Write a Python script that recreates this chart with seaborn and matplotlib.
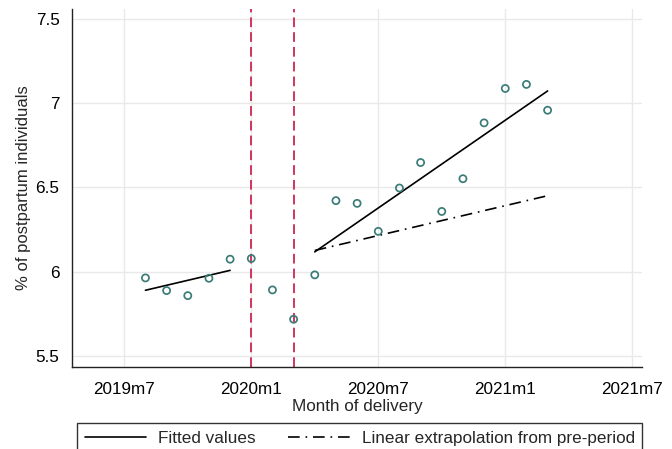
import numpy as np
import pandas as pd
import matplotlib
matplotlib.use("Agg")
import matplotlib.pyplot as plt
import seaborn as sns

# ---- data ----
months = ["2019m8", "2019m9", "2019m10", "2019m11", "2019m12",
          "2020m1", "2020m2", "2020m3", "2020m4", "2020m5",
          "2020m6", "2020m7", "2020m8", "2020m9", "2020m10",
          "2020m11", "2020m12", "2021m1", "2021m2", "2021m3"]
values = [5.963, 5.888, 5.858, 5.961, 6.074,
          6.078, 5.892, 5.718, 5.981, 6.421,
          6.405, 6.239, 6.496, 6.647, 6.357,
          6.551, 6.882, 7.086, 7.110, 6.957]
pre_period = ["2019m8", "2019m12"]
post_period = ["2020m4", "2021m3"]
event_months = ["2020m1", "2020m3"]
tick_labels = ["2019m7", "2020m1", "2020m7", "2021m1", "2021m7"]


def midx(s):
    y, m = s.split("m")
    return (int(y) - 2019) * 12 + int(m) - 7


df = pd.DataFrame({"month": [midx(m) for m in months], "value": values})

pre = df[(df.month >= midx(pre_period[0])) & (df.month <= midx(pre_period[1]))]
post = df[(df.month >= midx(post_period[0])) & (df.month <= midx(post_period[1]))]
b_pre = np.polyfit(pre.month, pre.value, 1)
b_post = np.polyfit(post.month, post.value, 1)
fit_pre = pd.DataFrame({"month": pre.month, "fit": np.polyval(b_pre, pre.month)})
fit_post = pd.DataFrame({"month": post.month, "fit": np.polyval(b_post, post.month)})
extrap = pd.DataFrame({"month": post.month, "fit": np.polyval(b_pre, post.month)})

# ---- plot ----
sns.set_style("white")
plt.rcParams["font.family"] = ["Liberation Sans", "DejaVu Sans"]
plt.rcParams["font.size"] = 12

fig = plt.figure(figsize=(6.72, 4.49), dpi=100)
ax = fig.add_axes([72 / 672, 1 - 367 / 449, 570 / 672, 358 / 449])

ax.set_axisbelow(True)
ax.grid(True, color="#e9e9e9", lw=1.0)

for em in event_months:
    ax.axvline(midx(em), color="#d0365c", lw=1.4, dashes=(5, 2.6), zorder=2)

sns.lineplot(data=fit_pre, x="month", y="fit", ax=ax, color="black", lw=1.2,
             label="Fitted values", zorder=3)
sns.lineplot(data=fit_post, x="month", y="fit", ax=ax, color="black", lw=1.2,
             zorder=3)
sns.lineplot(data=extrap, x="month", y="fit", ax=ax, color="black", lw=1.2,
             dashes=False, label="Linear extrapolation from pre-period", zorder=3)
ax.lines[-1].set_dashes((7, 3.5, 1, 3.5))

sns.scatterplot(data=df, x="month", y="value", ax=ax, marker="o", s=26,
                facecolor="none", edgecolor="#3b7c79", linewidth=1.25, zorder=4)

tick_pos = [midx(t) for t in tick_labels]
ax.set_xticks(tick_pos)
ax.set_xticklabels(tick_labels)
ax.set_yticks([5.5, 6, 6.5, 7, 7.5])
ax.set_yticklabels(["5.5", "6", "6.5", "7", "7.5"])
ax.set_xlim(-2.47, 24.46)
ax.set_ylim(5.435, 7.557)

for side in ["top", "right"]:
    ax.spines[side].set_visible(False)
for side in ["left", "bottom"]:
    ax.spines[side].set_color("#222222")
    ax.spines[side].set_linewidth(1.0)

ax.tick_params(axis="both", which="major", length=7, width=1.0,
               color="#222222", direction="out", labelsize=12.3, labelcolor="black")
ax.tick_params(axis="x", pad=4)
ax.tick_params(axis="y", pad=2)

ax.set_xlabel("Month of delivery", fontsize=12.3, labelpad=1.5)
ax.set_ylabel("% of postpartum individuals", fontsize=12, labelpad=3.5)

leg = ax.legend(loc="upper left",
                bbox_to_anchor=(77 / 672, 1 - 423 / 449),
                bbox_transform=fig.transFigure,
                ncol=2, frameon=True, fancybox=False, shadow=False,
                handlelength=3.6, handletextpad=0.7, columnspacing=1.9,
                borderpad=0.45, fontsize=12.3, borderaxespad=0)
leg.get_frame().set_edgecolor("#333333")
leg.get_frame().set_linewidth(1.0)
leg.get_frame().set_alpha(1)

fig.savefig("out.png", dpi=100)
